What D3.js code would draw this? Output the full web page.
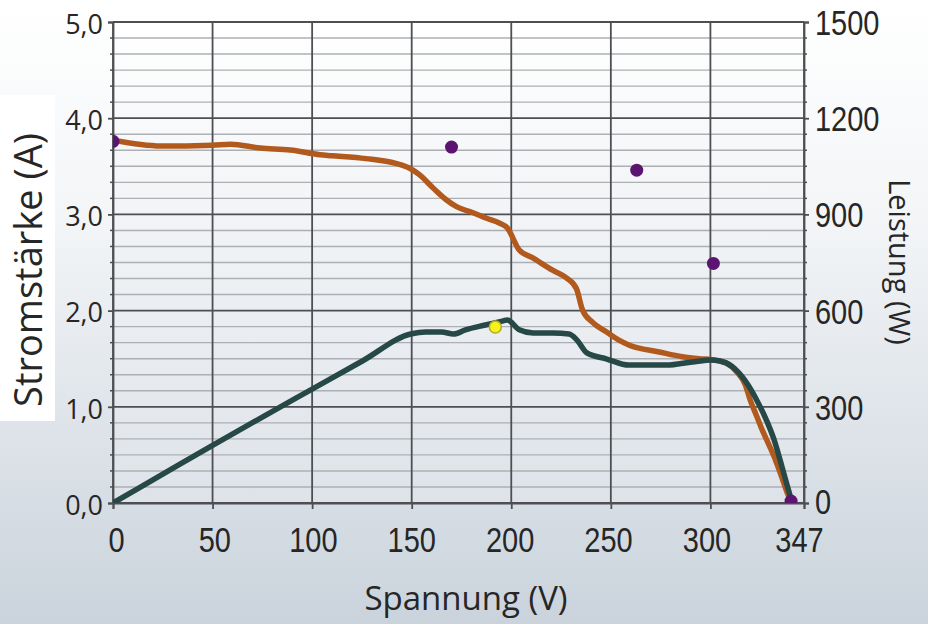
<!DOCTYPE html>
<html>
<head>
<meta charset="utf-8">
<script src="https://cdn.jsdelivr.net/npm/d3@7"></script>
<style>
  html, body { margin: 0; padding: 0; background: #fff; }
  svg { display: block; }
  text { font-family: "Open Sans", "Noto Sans", sans-serif; fill: #262626; }
</style>
</head>
<body>
<svg id="chart" width="928" height="624"></svg>
<script>
// ---- data ----
const xTicks = [0, 50, 100, 150, 200, 250, 300, 347];
const leftTicks = [0, 1, 2, 3, 4, 5];
const rightTicks = [0, 300, 600, 900, 1200, 1500];

// current (A) vs voltage (V)
const currentV = [0, 24, 50, 59, 74, 89, 104, 110, 127, 142, 149, 154, 160.5, 167.5, 172.5, 180.5, 187.6, 194, 198, 204, 210.6, 220.7, 227.7, 232.7, 235.7, 240.7, 247.7, 254.3, 259.3, 274.3, 285.9, 294.4, 300.9, 307.9, 313.4, 317.5, 320, 323, 326, 329.5, 333, 336, 338.5, 341];
const currentA = [3.77, 3.71, 3.72, 3.73, 3.69, 3.67, 3.62, 3.61, 3.58, 3.53, 3.48, 3.41, 3.28, 3.15, 3.08, 3.02, 2.96, 2.91, 2.86, 2.63, 2.55, 2.42, 2.34, 2.23, 2.01, 1.88, 1.78, 1.69, 1.64, 1.57, 1.52, 1.50, 1.49, 1.455, 1.36, 1.23, 1.07, 0.915, 0.76, 0.60, 0.43, 0.26, 0.11, 0];

// power (W) vs voltage (V)
const powerV = [0, 25, 50, 75, 100, 125, 150, 157, 165, 171, 177, 187, 196, 198, 204, 211, 221, 229, 233, 238, 248, 259, 278, 291, 300.9, 307.9, 314.4, 320.5, 324.5, 328.5, 332, 335, 337.5, 339.5, 341];
const powerW = [0, 90, 180, 268, 355, 442, 528, 533, 533, 527, 540, 555, 568, 571, 540, 530, 530, 527, 508, 468, 449, 430, 430, 440, 446, 437, 405, 352, 306, 253, 197, 134, 78, 34, 0];

// measured points (V, A)
const dotV = [0, 170, 263, 301.5, 340.5];
const dotA = [3.76, 3.70, 3.46, 2.49, 0.02];
// maximum power point (V, W)
const mppV = [192];
const mppW = [549];

// ---- layout ----
const svg = d3.select("#chart");
const W = 928, H = 624;
const m = {left: 113, right: 804, top: 22, bottom: 503};

const x = d3.scaleLinear().domain([0, 347]).range([m.left, m.right]);
const yA = d3.scaleLinear().domain([0, 5]).range([m.bottom, m.top]);
const yW = d3.scaleLinear().domain([0, 1500]).range([m.bottom, m.top]);

const defs = svg.append("defs");
const bg = defs.append("linearGradient").attr("id", "bg").attr("x1", 0).attr("y1", 0).attr("x2", 0).attr("y2", 1);
bg.append("stop").attr("offset", "0%").attr("stop-color", "#ffffff");
bg.append("stop").attr("offset", "35%").attr("stop-color", "#f3f5f7");
bg.append("stop").attr("offset", "100%").attr("stop-color", "#cad3dc");
const pg = defs.append("linearGradient").attr("id", "pg").attr("x1", 0).attr("y1", 0).attr("x2", 0).attr("y2", 1);
pg.append("stop").attr("offset", "0%").attr("stop-color", "#ffffff");
pg.append("stop").attr("offset", "100%").attr("stop-color", "#dee3e9");
defs.append("clipPath").attr("id", "clip").append("rect")
  .attr("x", m.left).attr("y", m.top).attr("width", m.right - m.left).attr("height", m.bottom - m.top);

svg.append("rect").attr("width", W).attr("height", H).attr("fill", "url(#bg)");
svg.append("rect").attr("x", 0).attr("y", 95).attr("width", 55).attr("height", 326).attr("fill", "#ffffff");
svg.append("rect").attr("x", m.left).attr("y", m.top).attr("width", m.right - m.left).attr("height", m.bottom - m.top).attr("fill", "url(#pg)");

// minor horizontal grid (every 50 W)
const minor = d3.range(0, 1501, 50).filter(v => v % 300 !== 0);
svg.append("g").selectAll("line").data(minor).join("line")
  .attr("x1", m.left).attr("x2", m.right)
  .attr("y1", d => yW(d)).attr("y2", d => yW(d))
  .attr("stroke", "#acb0b5").attr("stroke-width", 1.4);
// major horizontal grid
svg.append("g").selectAll("line").data(leftTicks).join("line")
  .attr("x1", m.left).attr("x2", m.right)
  .attr("y1", d => yA(d)).attr("y2", d => yA(d))
  .attr("stroke", "#4d4f52").attr("stroke-width", 1.8);
// vertical grid
svg.append("g").selectAll("line").data(xTicks).join("line")
  .attr("x1", d => x(d)).attr("x2", d => x(d))
  .attr("y1", m.top).attr("y2", m.bottom)
  .attr("stroke", "#4d4f52").attr("stroke-width", 1.8);

// axes
const xAxis = svg.append("g").attr("transform", `translate(0,${m.bottom})`)
  .call(d3.axisBottom(x).tickValues(xTicks).tickSize(6).tickPadding(10).tickFormat(d3.format("d")));
const leftAxis = svg.append("g").attr("transform", `translate(${m.left},0)`)
  .call(d3.axisLeft(yA).tickValues(leftTicks).tickSize(5).tickPadding(5).tickFormat(d => d.toFixed(1).replace(".", ",")));
const rightAxis = svg.append("g").attr("transform", `translate(${m.right},0)`)
  .call(d3.axisRight(yW).tickValues(rightTicks).tickSize(5).tickPadding(6).tickFormat(d3.format("d")));
[xAxis, leftAxis, rightAxis].forEach(g => {
  g.select(".domain").attr("stroke", "#4d4f52").attr("stroke-width", 1.8);
  g.selectAll(".tick line").attr("stroke", "#4d4f52").attr("stroke-width", 1.8);
  g.selectAll("text").attr("fill", "#262626");
});
leftAxis.selectAll("text").style("font-size", "27px").attr("dy", "0.42em");
// taller, narrower glyphs for bottom and right tick labels (as in the reference)
xAxis.selectAll(".tick text")
  .style("font-family", "'Liberation Sans', Arial, sans-serif").style("font-size", "29px")
  .attr("y", null).attr("dy", null)
  .attr("transform", d => `translate(${(3 - 8 * d / 347).toFixed(1)},49) scale(1,1.2)`);
rightAxis.selectAll(".tick text")
  .style("font-family", "'Liberation Sans', Arial, sans-serif").style("font-size", "29px")
  .attr("x", null).attr("dy", null)
  .attr("transform", d => `translate(11,${d === 0 ? 10 : 12.5}) scale(1,1.2)`);
// minor ticks
svg.append("g").selectAll("line").data(minor).join("line")
  .attr("x1", m.left - 3).attr("x2", m.left)
  .attr("y1", d => yW(d)).attr("y2", d => yW(d))
  .attr("stroke", "#4d4f52").attr("stroke-width", 1.5);
svg.append("g").selectAll("line").data(minor).join("line")
  .attr("x1", m.right).attr("x2", m.right + 3)
  .attr("y1", d => yW(d)).attr("y2", d => yW(d))
  .attr("stroke", "#4d4f52").attr("stroke-width", 1.5);

// curves
const plot = svg.append("g").attr("clip-path", "url(#clip)");
const currentData = currentV.map((v, i) => [v, currentA[i]]);
const powerData = powerV.map((v, i) => [v, powerW[i]]);
plot.append("path").datum(currentData)
  .attr("fill", "none").attr("stroke", "#b2591d").attr("stroke-width", 5.5)
  .attr("stroke-linejoin", "round").attr("stroke-linecap", "round")
  .attr("d", d3.line().x(d => x(d[0])).y(d => yA(d[1])).curve(d3.curveMonotoneX));
plot.append("path").datum(powerData)
  .attr("fill", "none").attr("stroke", "#264846").attr("stroke-width", 5.5)
  .attr("stroke-linejoin", "round").attr("stroke-linecap", "round")
  .attr("d", d3.line().x(d => x(d[0])).y(d => yW(d[1])).curve(d3.curveMonotoneX));

plot.selectAll("circle.dot").data(dotV.map((v, i) => [v, dotA[i]])).join("circle")
  .attr("class", "dot")
  .attr("cx", d => x(d[0])).attr("cy", d => yA(d[1])).attr("r", 6.5)
  .attr("fill", "#5b1470");
plot.selectAll("circle.mpp").data(mppV.map((v, i) => [v, mppW[i]])).join("circle")
  .attr("class", "mpp")
  .attr("cx", d => x(d[0])).attr("cy", d => yW(d[1])).attr("r", 6)
  .attr("fill", "#f6f21c").attr("stroke", "#b4ac22").attr("stroke-width", 1.5);

// titles
svg.append("text").attr("transform", "translate(29,270) rotate(-90)")
  .attr("text-anchor", "middle").attr("dy", "0.35em")
  .style("font-size", "38px").attr("fill", "#1f1d2e").text("Stromstärke (A)");
svg.append("text").attr("transform", "translate(899,262) rotate(90)")
  .attr("text-anchor", "middle").attr("dy", "0.35em")
  .style("font-size", "29px").attr("fill", "#262626").text("Leistung (W)");
svg.append("text").attr("x", 466).attr("y", 598)
  .attr("text-anchor", "middle").attr("dy", "0.35em")
  .style("font-size", "33px").attr("fill", "#262626").text("Spannung (V)");
</script>
</body>
</html>
